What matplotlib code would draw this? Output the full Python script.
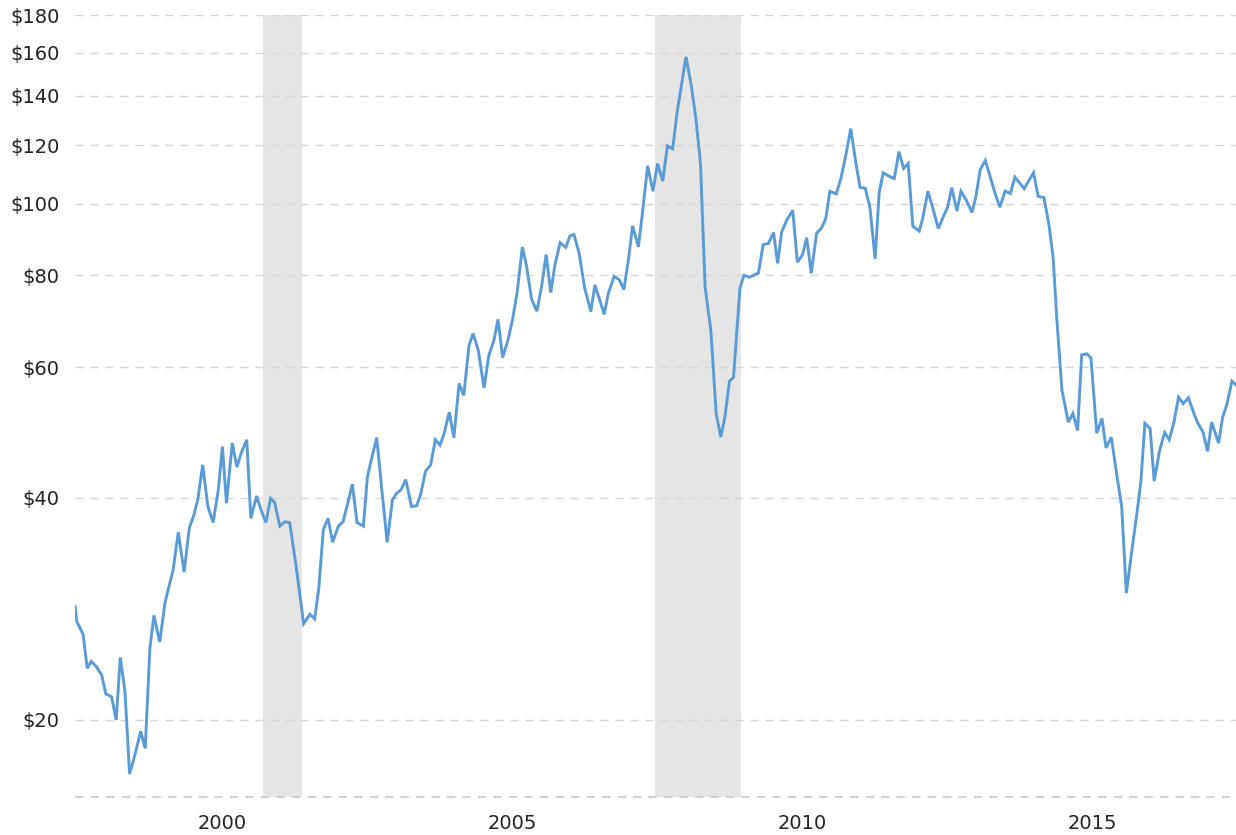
import numpy as np
import matplotlib.pyplot as plt
from matplotlib.ticker import FixedLocator, NullLocator

# 月度价格（对数坐标）
years = [
    1997.47, 1997.50, 1997.61, 1997.68, 1997.75, 1997.84, 1997.93, 1998.00, 1998.10, 1998.18,
    1998.25, 1998.33, 1998.41, 1998.50, 1998.60, 1998.68, 1998.76, 1998.83, 1998.93, 1999.02,
    1999.07, 1999.16, 1999.25, 1999.35, 1999.44, 1999.52, 1999.59, 1999.67, 1999.76, 1999.85,
    1999.94, 2000.01, 2000.08, 2000.18, 2000.26, 2000.34, 2000.43, 2000.50, 2000.60, 2000.68,
    2000.76, 2000.84, 2000.91, 2001.00, 2001.09, 2001.17, 2001.28, 2001.41, 2001.52, 2001.60,
    2001.67, 2001.75, 2001.83, 2001.91, 2002.01, 2002.09, 2002.17, 2002.25, 2002.33, 2002.44,
    2002.51, 2002.58, 2002.67, 2002.75, 2002.85, 2002.94, 2003.01, 2003.09, 2003.17, 2003.27,
    2003.36, 2003.43, 2003.51, 2003.60, 2003.68, 2003.76, 2003.83, 2003.92, 2004.00, 2004.09,
    2004.17, 2004.26, 2004.33, 2004.42, 2004.52, 2004.60, 2004.69, 2004.76, 2004.84, 2004.93,
    2005.01, 2005.09, 2005.18, 2005.25, 2005.34, 2005.43, 2005.51, 2005.59, 2005.67, 2005.74,
    2005.83, 2005.93, 2006.00, 2006.07, 2006.16, 2006.25, 2006.36, 2006.43, 2006.51, 2006.59,
    2006.66, 2006.76, 2006.85, 2006.93, 2007.01, 2007.08, 2007.18, 2007.25, 2007.34, 2007.43,
    2007.51, 2007.60, 2007.68, 2007.77, 2007.85, 2008.00, 2008.09, 2008.17, 2008.25, 2008.33,
    2008.43, 2008.52, 2008.60, 2008.67, 2008.75, 2008.82, 2008.93, 2009.00, 2009.09, 2009.17,
    2009.25, 2009.33, 2009.42, 2009.51, 2009.58, 2009.65, 2009.74, 2009.84, 2009.92, 2010.01,
    2010.08, 2010.16, 2010.25, 2010.34, 2010.41, 2010.48, 2010.59, 2010.67, 2010.76, 2010.84,
    2010.93, 2011.00, 2011.09, 2011.17, 2011.26, 2011.33, 2011.40, 2011.50, 2011.59, 2011.67,
    2011.75, 2011.83, 2011.91, 2012.02, 2012.08, 2012.17, 2012.25, 2012.35, 2012.44, 2012.51,
    2012.58, 2012.67, 2012.74, 2012.83, 2012.93, 2013.00, 2013.07, 2013.16, 2013.24, 2013.33,
    2013.41, 2013.50, 2013.59, 2013.67, 2013.83, 2013.90, 2013.99, 2014.07, 2014.17, 2014.26,
    2014.33, 2014.39, 2014.48, 2014.59, 2014.67, 2014.75, 2014.82, 2014.91, 2014.98, 2015.08,
    2015.17, 2015.24, 2015.33, 2015.43, 2015.51, 2015.59, 2015.68, 2015.77, 2015.84, 2015.91,
    2016.00, 2016.07, 2016.16, 2016.25, 2016.33, 2016.41, 2016.49, 2016.57, 2016.66, 2016.75,
    2016.82, 2016.91, 2016.99, 2017.06, 2017.18, 2017.25, 2017.32, 2017.41, 2017.48,
]
prices = [
    28.5, 27.2, 26.1, 23.5, 24.0, 23.6, 23.0, 21.7, 21.5, 20.0,
    24.3, 21.9, 16.9, 17.9, 19.3, 18.3, 25.0, 27.7, 25.5, 28.8,
    29.9, 31.9, 35.9, 31.7, 36.4, 37.9, 39.9, 44.3, 38.9, 37.0,
    41.0, 46.9, 39.3, 47.4, 44.0, 46.1, 47.9, 37.5, 40.2, 38.4,
    37.0, 39.9, 39.4, 36.6, 37.1, 37.0, 32.3, 27.0, 27.8, 27.4,
    30.1, 36.2, 37.5, 34.8, 36.6, 37.1, 39.3, 41.7, 37.0, 36.6,
    42.7, 45.1, 48.2, 41.6, 34.8, 39.7, 40.5, 41.0, 42.3, 38.9,
    39.0, 40.5, 43.4, 44.3, 47.9, 47.1, 48.8, 52.2, 48.2, 57.1,
    55.0, 64.2, 66.7, 63.3, 56.3, 62.2, 65.3, 69.7, 61.9, 65.3,
    69.6, 75.8, 87.3, 82.5, 74.2, 71.5, 77.1, 85.3, 75.8, 82.5,
    88.5, 87.3, 90.4, 90.8, 85.6, 77.1, 71.4, 77.6, 74.2, 70.8,
    75.5, 79.7, 78.9, 76.5, 84.2, 93.3, 87.4, 97.2, 112.5, 103.9,
    113.3, 107.3, 119.7, 118.6, 133.4, 158.0, 144.7, 130.6, 113.3, 77.1,
    67.2, 52.0, 48.3, 51.4, 57.5, 58.2, 76.8, 80.0, 79.5, 80.0,
    80.6, 88.0, 88.3, 91.4, 83.0, 91.6, 95.1, 97.9, 83.3, 85.3,
    89.9, 80.5, 91.1, 92.8, 95.5, 103.9, 103.1, 108.1, 116.8, 126.3,
    113.3, 105.2, 104.9, 98.9, 84.2, 103.5, 110.1, 108.9, 108.1, 117.6,
    111.6, 113.3, 93.2, 91.8, 95.5, 103.9, 98.9, 92.5, 96.2, 98.9,
    105.1, 97.7, 103.9, 101.1, 97.3, 102.5, 111.1, 114.4, 108.9, 103.1,
    98.9, 104.0, 103.2, 108.6, 104.8, 107.1, 110.1, 102.3, 101.9, 93.2,
    84.2, 70.1, 55.9, 50.6, 52.0, 49.3, 62.4, 62.6, 61.8, 48.9,
    51.2, 46.7, 48.3, 42.7, 38.9, 29.7, 33.7, 38.0, 42.0, 50.4,
    49.6, 42.1, 46.2, 49.0, 47.9, 50.6, 54.7, 53.6, 54.6, 52.1,
    50.5, 49.1, 46.2, 50.6, 47.4, 51.4, 53.4, 57.5, 56.8,
]

# 衰退期阴影
recessions = [(2000.71, 2001.38), (2007.47, 2008.95)]

y_ticks = [20, 40, 60, 80, 100, 120, 140, 160, 180]
x_ticks = [2000, 2005, 2010, 2015]

fig = plt.figure(figsize=(12.36, 8.35), dpi=100)
ax = fig.add_axes([0.0607, 0.0455, 0.9393, 0.9365])

for a, b in recessions:
    ax.axvspan(a, b, color='#e5e5e5', lw=0, zorder=0)

ax.plot(years, prices, color='#5b9bd5', lw=2.1, zorder=3, solid_joinstyle='miter')

ax.set_yscale('log')
ax.set_ylim(15.73, 180)
ax.set_xlim(1997.47, 2017.48)

ax.yaxis.set_major_locator(FixedLocator(y_ticks))
ax.yaxis.set_minor_locator(NullLocator())
ax.set_yticklabels([f'${v}' for v in y_ticks])
ax.xaxis.set_major_locator(FixedLocator(x_ticks))
ax.set_xticklabels([str(v) for v in x_ticks])

ax.grid(True, axis='y', color='#d6d6d6', ls=(0, (5.8, 5)), lw=1.0, zorder=1)
ax.axhline(15.73, color='#c8c8c8', ls=(0, (5, 4.3)), lw=1.2, zorder=1, clip_on=False)

for s in ax.spines.values():
    s.set_visible(False)
ax.tick_params(axis='both', length=0, labelsize=14, colors='#222222')
ax.tick_params(axis='y', pad=11)
ax.tick_params(axis='x', pad=12)

fig.savefig('out.png', dpi=100)
